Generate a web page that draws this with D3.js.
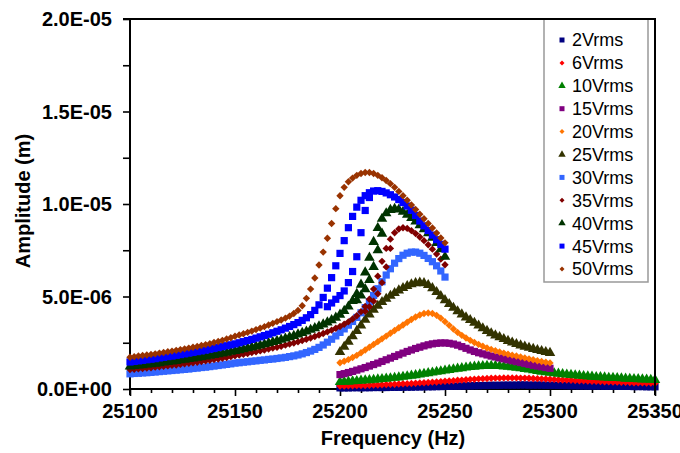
<!DOCTYPE html>
<html>
<head>
<meta charset="utf-8">
<script src="https://cdn.jsdelivr.net/npm/d3@7"></script>
<style>
  body { margin: 0; background: #fff; }
  svg { display: block; }
  text { font-family: "Liberation Sans", Arial, sans-serif; fill: #000; }
</style>
</head>
<body>
<div id="chart"></div>
<script>
// sweep grids (Hz), 2 Hz step
const fLow  = d3.range(25100, 25251, 2);   // 30..50 Vrms
const fMid  = d3.range(25200, 25301, 2);   // 15..25 Vrms
const fHigh = d3.range(25200, 25351, 2);   // 2..10 Vrms

// amplitudes, in micrometres (1e-6 m)
const v2 = [0.06,0.06,0.06,0.07,0.07, 0.07,0.07,0.07,0.08,0.08, 0.08,0.08,0.09,0.09,0.09,
  0.10,0.10,0.10,0.11,0.11, 0.12,0.12,0.12,0.13,0.13, 0.14,0.14,0.15,0.15,0.16,
  0.17,0.17,0.18,0.18,0.19, 0.19,0.20,0.20,0.20,0.21, 0.21,0.21,0.21,0.22,0.22,
  0.21,0.21,0.21,0.21,0.20, 0.20,0.20,0.19,0.19,0.18, 0.18,0.18,0.17,0.17,0.16,
  0.16,0.16,0.16,0.15,0.15, 0.15,0.15,0.14,0.14,0.14, 0.13,0.13,0.13,0.12,0.12, 0.12];
const v6 = [0.16,0.16,0.17,0.17,0.18, 0.19,0.19,0.20,0.21,0.22, 0.23,0.24,0.25,0.26,0.27,
  0.28,0.29,0.30,0.31,0.33, 0.34,0.35,0.37,0.38,0.40, 0.42,0.43,0.45,0.47,0.48,
  0.50,0.52,0.53,0.55,0.56, 0.57,0.58,0.59,0.59,0.60, 0.60,0.60,0.60,0.59,0.59,
  0.58,0.57,0.56,0.55,0.54, 0.53,0.52,0.50,0.49,0.48, 0.47,0.46,0.45,0.44,0.43,
  0.42,0.41,0.40,0.39,0.39, 0.38,0.37,0.36,0.36,0.35, 0.34,0.33,0.33,0.32,0.32, 0.31];
const v10 = [0.38,0.39,0.40,0.42,0.43, 0.45,0.47,0.48,0.50,0.52, 0.54,0.56,0.58,0.61,0.63,
  0.66,0.69,0.72,0.75,0.79, 0.82,0.86,0.89,0.93,0.96, 1.00,1.03,1.07,1.10,1.13,
  1.16,1.19,1.21,1.23,1.24, 1.25,1.25,1.25,1.24,1.22, 1.20,1.18,1.15,1.12,1.08,
  1.05,1.01,0.98,0.94,0.91, 0.88,0.85,0.83,0.80,0.78, 0.76,0.74,0.72,0.70,0.68,
  0.67,0.65,0.64,0.63,0.61, 0.60,0.59,0.58,0.56,0.55, 0.54,0.53,0.52,0.51,0.50, 0.49];
const v15 = [0.78,0.83,0.89,0.95,1.02, 1.09,1.16,1.24,1.32,1.40, 1.49,1.58,1.67,1.76,1.85,
  1.94,2.03,2.11,2.19,2.26, 2.33,2.39,2.44,2.47,2.49, 2.49,2.47,2.43,2.37,2.29,
  2.20,2.11,2.03,1.96,1.90, 1.84,1.78,1.73,1.68,1.63, 1.58,1.53,1.48,1.43,1.38,
  1.33,1.28,1.24,1.20,1.16, 1.12];
const v20 = [1.42,1.50,1.59,1.70,1.82, 1.96,2.11,2.26,2.41,2.56, 2.71,2.86,3.01,3.16,3.31,
  3.46,3.61,3.76,3.89,4.00, 4.08,4.11,4.08,3.98,3.83, 3.64,3.44,3.24,3.06,2.90,
  2.76,2.63,2.51,2.41,2.31, 2.22,2.14,2.07,2.00,1.94, 1.88,1.83,1.78,1.73,1.68,
  1.63,1.58,1.53,1.49,1.45, 1.41];
const v25 = [2.00,2.28,2.56,2.85,3.14, 3.44,3.74,4.03,4.28,4.50, 4.70,4.88,5.04,5.19,5.33,
  5.46,5.57,5.66,5.72,5.75, 5.72,5.62,5.45,5.24,5.02, 4.80,4.59,4.39,4.20,4.03,
  3.87,3.73,3.58,3.43,3.28, 3.14,3.01,2.90,2.80,2.70, 2.60,2.51,2.43,2.36,2.29,
  2.23,2.17,2.11,2.05,2.00, 1.95];
const v30 = [0.82,0.84,0.85,0.87,0.88, 0.90,0.92,0.94,0.96,0.98, 1.00,1.02,1.04,1.06,1.08,
  1.11,1.13,1.16,1.18,1.21, 1.24,1.27,1.30,1.33,1.36, 1.40,1.42,1.45,1.47,1.50,
  1.52,1.55,1.57,1.60,1.62, 1.65,1.68,1.71,1.75,1.79, 1.84,1.90,1.97,2.05,2.14,
  2.25,2.38,2.53,2.69,2.87, 3.06,3.25,3.45,3.65,3.87, 4.12,4.40,4.72,5.06,5.42,
  5.80,6.16,6.50,6.80,7.05, 7.23,7.34,7.40,7.40,7.34, 7.22,7.06,6.88,6.66,6.38, 6.05];
const v35 = [1.05,1.07,1.09,1.11,1.13, 1.15,1.18,1.20,1.23,1.25, 1.28,1.30,1.33,1.36,1.39,
  1.42,1.45,1.48,1.52,1.55, 1.59,1.62,1.66,1.70,1.75, 1.80,1.84,1.88,1.92,1.97,
  2.01,2.06,2.11,2.16,2.21, 2.26,2.31,2.37,2.43,2.49, 2.55,2.62,2.69,2.76,2.84,
  2.92,3.00,3.09,3.18,3.28, 3.38,3.50,3.63,3.78,3.96, 4.18,4.46,4.85,5.40,6.10,
  6.90,7.60,8.10,8.45,8.65, 8.72,8.68,8.56,8.40,8.22, 8.02,7.80,7.56,7.30,7.02, 6.72];
const v40 = [1.22,1.24,1.27,1.29,1.32, 1.34,1.37,1.40,1.43,1.46, 1.49,1.52,1.55,1.58,1.62,
  1.65,1.69,1.72,1.76,1.80, 1.84,1.88,1.92,1.96,2.01, 2.05,2.10,2.15,2.20,2.25,
  2.30,2.36,2.42,2.48,2.54, 2.60,2.66,2.73,2.80,2.87, 2.95,3.03,3.11,3.20,3.29,
  3.39,3.49,3.60,3.72,3.86, 4.02,4.22,4.46,4.76,5.14, 5.64,6.30,7.10,7.95,8.70,
  9.20,9.50,9.68,9.74,9.70, 9.58,9.42,9.24,9.05,8.85, 8.64,8.42,8.18,7.90,7.56, 7.15];
const v45 = [1.46,1.49,1.52,1.55,1.58, 1.61,1.64,1.68,1.71,1.75, 1.78,1.82,1.86,1.90,1.94,
  1.98,2.02,2.06,2.10,2.15, 2.19,2.24,2.29,2.34,2.39, 2.44,2.50,2.56,2.62,2.68,
  2.75,2.82,2.89,2.96,3.04, 3.12,3.20,3.29,3.38,3.48, 3.59,3.71,3.85,4.02,4.25,
  4.55,4.95,5.45,6.02,6.66, 7.33,8.02,8.72,9.33,9.83, 10.20,10.45,10.61,10.70,10.72,
  10.68,10.60,10.50,10.38,10.24, 10.08,9.89,9.66,9.38,9.08, 8.82,8.57,8.32,8.07,7.82, 7.56];
const v50 = [1.72,1.75,1.78,1.81,1.84, 1.87,1.90,1.94,1.97,2.01, 2.05,2.09,2.13,2.17,2.21,
  2.26,2.30,2.35,2.40,2.45, 2.51,2.57,2.63,2.70,2.77, 2.85,2.92,2.99,3.06,3.13,
  3.21,3.29,3.37,3.46,3.55, 3.64,3.73,3.83,3.94,4.08, 4.25,4.50,4.90,5.40,6.00,
  6.70,7.40,8.15,8.95,9.75, 10.45,10.90,11.20,11.40,11.55, 11.65,11.70,11.70,11.65,11.55,
  11.42,11.27,11.10,10.90,10.68, 10.45,10.20,9.95,9.70,9.45, 9.20,8.95,8.70,8.43,8.16, 7.90];

// second (upward) sweep near the jump, same series
const f35b = d3.range(25212, 25225, 2);
const v35b = [4.20,4.45,4.75,5.15,5.75,6.60,7.60];
const f40b = d3.range(25208, 25221, 2);
const v40b = [4.80,5.05,5.40,5.90,6.60,7.50,8.40];
const f45b = d3.range(25194, 25215, 2);
const v45b = [4.45,4.65,4.85,5.05,5.30,5.75,6.35,7.15,8.45,9.65,10.35];

const names  = ['2Vrms','6Vrms','10Vrms','15Vrms','20Vrms','25Vrms','30Vrms','35Vrms','40Vrms','45Vrms','50Vrms'];
const colors = ['#000080','#ff0000','#008000','#800080','#ff7400','#333300','#3366ff','#800000','#003300','#0000ff','#993300'];
const shapes = ['square','diamond','triangle','square','diamond','triangle','square','diamond','triangle','square','diamond'];

const series = [
  { f: fHigh, v: v2 }, { f: fHigh, v: v6 }, { f: fHigh, v: v10 },
  { f: fMid, v: v15 }, { f: fMid, v: v20 }, { f: fMid, v: v25 },
  { f: fLow, v: v30 },
  { f: fLow.concat(f35b), v: v35.concat(v35b) },
  { f: fLow.concat(f40b), v: v40.concat(v40b) },
  { f: fLow.concat(f45b), v: v45.concat(v45b) },
  { f: fLow, v: v50 }
];

const width = 680, height = 453;
const pLeft = 130, pRight = 655, pTop = 19, pBottom = 389;

const svg = d3.select('#chart').append('svg')
  .attr('width', width).attr('height', height);

const x = d3.scaleLinear().domain([25100, 25350]).range([pLeft, pRight]);
const y = d3.scaleLinear().domain([0, 20]).range([pBottom, pTop]);

function sci(d) {
  const [m, e] = (d * 1e-6).toExponential(1).split('e');
  const n = Math.abs(+e);
  return m + 'E' + (+e < 0 ? '-' : '+') + (n < 10 ? '0' + n : n);
}

function marker(shape, s) {
  if (shape === 'square') return d3.symbol(d3.symbolSquare, s * s)();
  if (shape === 'diamond') return d3.symbol(d3.symbolSquare, s * s * 0.5)();
  return d3.symbol(d3.symbolTriangle, s * s * 0.62)();
}

// axes
svg.append('g')
  .attr('transform', `translate(${pLeft},0)`)
  .call(d3.axisLeft(y).tickValues(d3.range(0, 20.1, 2.5)).tickSize(7).tickFormat(''));
const xAxis = svg.append('g')
  .attr('transform', `translate(0,${pBottom})`)
  .call(d3.axisBottom(x).tickValues(d3.range(25100, 25351, 10)).tickSize(4).tickFormat(''));
xAxis.selectAll('.tick line').filter(d => d % 50 === 0).attr('y2', 7);
svg.selectAll('.domain').remove();
svg.selectAll('.tick line').attr('stroke', '#000').attr('stroke-width', 1.6);

svg.append('line').attr('x1', pLeft).attr('x2', pLeft).attr('y1', pTop).attr('y2', pBottom + 6)
  .attr('stroke', '#000').attr('stroke-width', 2);
svg.append('line').attr('x1', pLeft).attr('x2', pRight).attr('y1', pBottom).attr('y2', pBottom)
  .attr('stroke', '#000').attr('stroke-width', 2);

svg.append('g').selectAll('text')
  .data(d3.range(0, 20.1, 5))
  .join('text')
  .attr('x', 112).attr('y', d => y(d)).attr('dy', '0.36em')
  .attr('text-anchor', 'end')
  .style('font-size', '20px').style('font-weight', 'bold')
  .text(sci);

svg.append('g').selectAll('text')
  .data(d3.range(25100, 25351, 50))
  .join('text')
  .attr('x', d => x(d)).attr('y', 418)
  .attr('text-anchor', 'middle')
  .style('font-size', '20px').style('font-weight', 'bold')
  .text(d => d);

svg.append('text')
  .attr('x', 393).attr('y', 445).attr('text-anchor', 'middle')
  .style('font-size', '20px').style('font-weight', 'bold')
  .text('Frequency (Hz)');

svg.append('text')
  .attr('transform', 'translate(30,201) rotate(-90)')
  .attr('text-anchor', 'middle')
  .style('font-size', '20px').style('font-weight', 'bold')
  .text('Amplitude (m)');

// data
series.forEach((s, i) => {
  const size = shapes[i] === 'triangle' ? 8.8 : (shapes[i] === 'diamond' ? 7.4 : 7.2);
  const path = marker(shapes[i], size);
  svg.append('g')
    .selectAll('path')
    .data(s.f.map((f, j) => [f, s.v[j]]))
    .join('path')
    .attr('d', path)
    .attr('transform', d => `translate(${x(d[0])},${y(d[1])})` + (shapes[i] === 'diamond' ? ' rotate(45)' : ''))
    .attr('fill', colors[i]);
});

// legend
const lg = svg.append('g');
lg.append('rect')
  .attr('x', 544).attr('y', pTop).attr('width', 104).attr('height', 263)
  .attr('fill', '#fff').attr('stroke', '#999').attr('stroke-width', 1.5);
names.forEach((n, i) => {
  const cy = 40 + i * 22.9;
  const size = shapes[i] === 'triangle' ? 6.2 : 5;
  lg.append('path')
    .attr('d', marker(shapes[i], size))
    .attr('transform', `translate(562,${cy})` + (shapes[i] === 'diamond' ? ' rotate(45)' : ''))
    .attr('fill', colors[i]);
  lg.append('text')
    .attr('x', 572).attr('y', cy).attr('dy', '0.36em')
    .style('font-size', '18px')
    .text(n);
});

// plot frame (top and right)
svg.append('line').attr('x1', pLeft - 7).attr('x2', pRight + 1).attr('y1', pTop).attr('y2', pTop)
  .attr('stroke', '#000').attr('stroke-width', 2);
svg.append('line').attr('x1', pRight).attr('x2', pRight).attr('y1', pTop).attr('y2', pBottom + 6)
  .attr('stroke', '#000').attr('stroke-width', 2);
</script>
</body>
</html>
